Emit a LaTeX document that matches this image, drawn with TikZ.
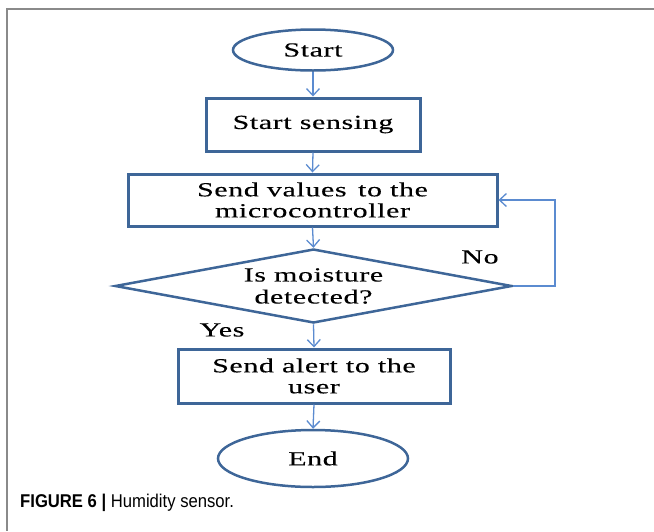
\documentclass[tikz,border=0pt]{standalone}
\usepackage{fontspec}
\setmainfont{Liberation Serif}[FakeStretch=1.5, LetterSpace=3, FakeBold=0.2]
\newfontfamily\capfont{Liberation Sans}[FakeStretch=0.9]
\usetikzlibrary{shapes.geometric,arrows.meta}
\definecolor{boxblue}{HTML}{3E6698}
\definecolor{arrblue}{HTML}{5B8BD0}
\definecolor{framegray}{HTML}{8A8A8A}
\tikzset{
  txt/.style={font=\fontsize{20}{20}\selectfont, align=center, inner sep=0pt},
  term/.style={txt, ellipse, draw=boxblue, line width=2.5pt},
  stepbox/.style={txt, rectangle, draw=boxblue, line width=3pt},
  dec/.style={txt, diamond, draw=boxblue, line width=2.5pt, aspect=5.36, minimum width=397pt, minimum height=74pt},
  arr/.style={draw=arrblue, line width=1.3pt, -{Straight Barb[length=7pt, width=13pt]}},
  lbl/.style={font=\fontsize{20}{20}\selectfont, inner sep=0pt},
}
\begin{document}
\begin{tikzpicture}[x=1pt, y=-1pt]
\useasboundingbox (0,0) rectangle (654,531);
\draw[framegray, line width=1.5pt] (654,9) -- (7,9) -- (7,531);

\node[term, minimum width=160pt, minimum height=41pt] (start) at (313,50) {Start};
\node[stepbox, minimum width=214pt, minimum height=53pt] (sense) at (313,124.5) {Start sensing};
\node[stepbox, minimum width=369pt, minimum height=52pt] (send) at (312.5,200) {Send values\, to the\\[1pt]microcontroller};
\node[dec] (dec) at (313.5,286) {Is moisture\\[2pt]detected?};
\node[stepbox, minimum width=272pt, minimum height=54pt] (alert) at (314,376) {Send alert to the\\[1pt]user};
\node[term, minimum width=190pt, minimum height=57pt] (end) at (313,458.5) {End};

\coordinate (loop) at (555,200);
\draw[arr] (start.south) -- (sense.north);
\draw[arr] (sense.south) -- (send.north);
\draw[arr] (send.south) -- (dec.north);
\draw[arr] (dec.south) -- (alert.north);
\draw[arr] (alert.south) -- (end.north);
\draw[arr] (dec.east) -| (loop) -- (send.east);

\node[lbl] (no) at (480,257) {No};
\node[lbl] (yes) at (222,330) {Yes};

\node[anchor=base west, inner sep=0pt] (cap) at (20,507) {\capfont\fontsize{18.5}{20}\selectfont\textbf{FIGURE 6 |} Humidity sensor.};
\end{tikzpicture}
\end{document}
